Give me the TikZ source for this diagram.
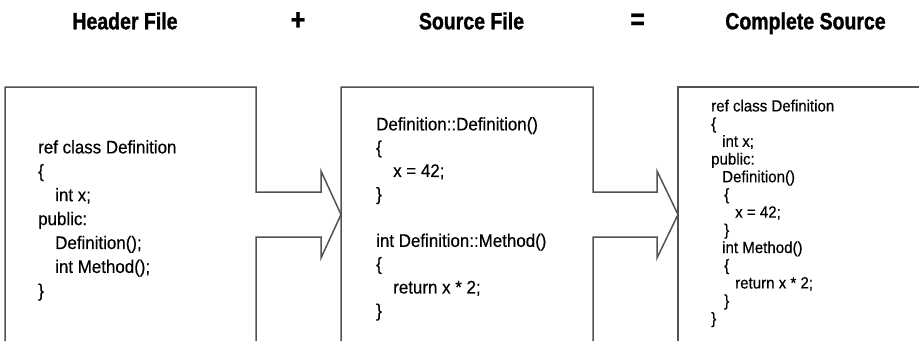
\documentclass[tikz,border=0pt]{standalone}
\usepackage{fontspec}
\setmainfont{Liberation Sans}
\newfontfamily\headfamily[FakeStretch=0.83,FakeBold=1.2]{Liberation Sans Bold}
\newfontfamily\codefamily[FakeStretch=0.93,FakeBold=0.4]{Liberation Sans}
\newcommand\headfnt{\headfamily\fontsize{23.5}{26}\selectfont}
\newcommand\symfnt{\headfamily\fontsize{30}{30}\selectfont}
\newcommand\codeA{\codefamily\fontsize{18.2}{23.9}\selectfont}
\newcommand\codeB{\codefamily\fontsize{18.2}{23.3}\selectfont}
\newcommand\codeC{\codefamily\fontsize{16.2}{17.7}\selectfont}
\newcommand\ind{\hspace*{17pt}}
\newcommand\indc{\hspace*{11pt}}
\newcommand\indcc{\hspace*{13pt}}
\begin{document}
\begin{tikzpicture}[x=1pt,y=-1pt,
  outline/.style={draw=black!68,line width=1.5pt,line join=miter},
  head/.style={font=\headfnt,anchor=base,inner sep=0pt},
  sym/.style={font=\symfnt,anchor=center,inner sep=0pt},
  code/.style={align=left,anchor=north west,inner sep=0pt}]
\useasboundingbox (0,0) rectangle (919,341);
% headings
\node[head] (h1) at (125,29.3) {Header File};
\node[sym] (plus) at (298,21) {+};
\node[head] (h2) at (471.5,29.3) {Source File};
\node[sym] (eq) at (637.5,21.5) {=};
\node[head] (h3) at (805.5,29.3) {Complete Source};
% outlines
\draw[outline] (5,341) -- (5,87) -- (256,87) -- (256,192) -- (321,192) -- (321,171)
  -- (341,214.5) -- (321,258) -- (321,237) -- (256,237) -- (256,341);
\draw[outline] (341,341) -- (341,87) -- (593,87) -- (593,192) -- (657,192) -- (657,171)
  -- (678,214.5) -- (657,258) -- (657,237) -- (593,237) -- (593,341);
\draw[outline] (678,341) -- (678,87) -- (919,87);
% code
\node[code,font=\codeA] (c1) at (38,140) {ref class Definition\\
\{\\
\ind int x;\\
public:\\
\ind Definition();\\
\ind int Method();\\
\}};
\node[code,font=\codeB] (c2) at (376,117) {Definition::Definition()\\
\{\\
\ind x = 42;\\
\}\\
\mbox{}\\
int Definition::Method()\\
\{\\
\ind return x * 2;\\
\}};
\node[code,font=\codeC] (c3) at (711,99.5) {ref class Definition\\
\{\\
\indc int x;\\
public:\\
\indc Definition()\\
\indcc\{\\
\indc\indcc x = 42;\\
\indcc\}\\
\indc int Method()\\
\indcc\{\\
\indc\indcc return x * 2;\\
\indcc\}\\
\}};
\end{tikzpicture}
\end{document}
